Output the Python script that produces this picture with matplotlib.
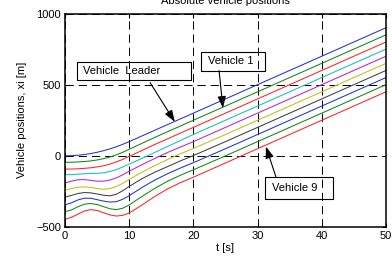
import matplotlib
matplotlib.use("Agg")
import matplotlib.pyplot as plt
from matplotlib.patches import Rectangle

plt.rcParams['font.family'] = ['Liberation Sans', 'DejaVu Sans']
plt.rcParams['lines.scale_dashes'] = False

# time samples [s]
t = [0, 1, 2, 3, 4, 5, 6, 7, 8, 9, 10, 12, 14, 16, 18, 20, 25, 30, 40, 50]

# positions [m]
leader = [0, 1, 4, 9, 16, 25, 36, 49, 64, 81, 100, 140, 180, 220, 260, 300, 400, 500, 700, 900]
veh1 = [-45, -45, -43, -40, -36, -29, -20, -8, 7, 25, 46, 88, 130, 170, 210, 250, 350, 450, 650, 850]
veh2 = [-93, -93, -91, -88, -84, -78, -70, -58, -43, -25, -4, 38, 80, 120, 160, 200, 300, 400, 600, 800]
veh3 = [-133, -132, -129, -126, -124, -123, -119, -110, -97, -78, -57, -18, 24, 66, 108, 150, 250, 350, 550, 750]
veh4 = [-190, -178, -168, -167, -172, -178, -178, -170, -155, -133, -108, -62, -18, 24, 62, 100, 200, 300, 500, 700]
veh5 = [-242, -230, -220, -218, -222, -230, -235, -230, -215, -193, -165, -115, -68, -25, 15, 52, 150, 250, 450, 650]
veh6 = [-290, -278, -265, -258, -260, -268, -277, -281, -270, -245, -215, -160, -115, -75, -35, 2, 100, 200, 400, 600]
veh7 = [-345, -330, -310, -298, -298, -308, -318, -325, -322, -305, -280, -222, -170, -125, -85, -48, 50, 150, 350, 550]
veh8 = [-393, -380, -358, -340, -335, -342, -357, -372, -378, -368, -345, -285, -228, -178, -136, -98, 0, 100, 300, 500]
veh9 = [-445, -432, -410, -388, -378, -384, -400, -415, -423, -418, -402, -345, -285, -232, -188, -150, -50, 50, 250, 450]

series = [leader, veh1, veh2, veh3, veh4, veh5, veh6, veh7, veh8, veh9]
colors = ['#2233cc', '#118811', '#ff2222', '#11c0c0', '#c022c0',
          '#c0c011', '#404040', '#2233cc', '#118811', '#ff2222']

xticks = [0, 10, 20, 30, 40, 50]
yticks = [-500, 0, 500, 1000]

fig = plt.figure(figsize=(3.92, 2.64), dpi=100)
ax = fig.add_axes([65/392, 1-227/264, 321/392, 213.5/264])

for s, c in zip(series, colors):
    ax.plot(t, s, color=c, lw=0.75)

ax.set_xlim(0, 50)
ax.set_ylim(-500, 1000)
ax.set_xticks(xticks)
ax.set_yticks(yticks)
ax.tick_params(direction='in', length=3, width=0.8, labelsize=8, pad=3,
               top=True, right=True, colors='black')
ax.grid(True, color='black', lw=0.7, linestyle=(0, (6, 3.5)))
for sp in ax.spines.values():
    sp.set_linewidth(1.1)

ax.set_xlabel('t [s]', fontsize=8)
ax.xaxis.set_label_coords(0.5, -0.075)
ax.set_ylabel('Vehicle positions, xi [m]', fontsize=8)
ax.yaxis.set_label_coords(-0.118, 0.5)
ax.text(0.5, 1.045, 'Absolute vehicle positions', transform=ax.transAxes,
        ha='center', va='baseline', fontsize=8)

def box(x0, x1, y0, y1):
    ax.add_patch(Rectangle((x0, y0), x1 - x0, y1 - y0, transform=ax.transAxes,
                           fill=False, ec='black', lw=0.8, zorder=5))

arrowprops = dict(arrowstyle='-|>,head_length=0.7,head_width=0.25',
                  color='black', lw=0.8, shrinkA=0, shrinkB=0)

# Vehicle Leader
box(0.0374, 0.3925, 0.690, 0.775)
ax.text(0.056, 0.732, 'Vehicle  Leader', transform=ax.transAxes,
        ha='left', va='center', fontsize=8, zorder=6)
ax.annotate('', xy=(17.1, 239), xycoords='data', xytext=(0.265, 0.676),
            textcoords='axes fraction', arrowprops=arrowprops, zorder=6)

# Vehicle 1
box(0.424, 0.623, 0.732, 0.822)
ax.text(0.445, 0.777, 'Vehicle 1', transform=ax.transAxes,
        ha='left', va='center', fontsize=8, zorder=6)
ax.annotate('', xy=(24.6, 336), xycoords='data', xytext=(0.480, 0.732),
            textcoords='axes fraction', arrowprops=arrowprops, zorder=6)

# Vehicle 9
box(0.623, 0.835, 0.131, 0.235)
ax.text(0.644, 0.183, 'Vehicle 9', transform=ax.transAxes,
        ha='left', va='center', fontsize=8, zorder=6)
ax.annotate('', xy=(31.3, 65), xycoords='data', xytext=(0.657, 0.235),
            textcoords='axes fraction', arrowprops=arrowprops, zorder=6)

fig.savefig('out.png', dpi=100)
